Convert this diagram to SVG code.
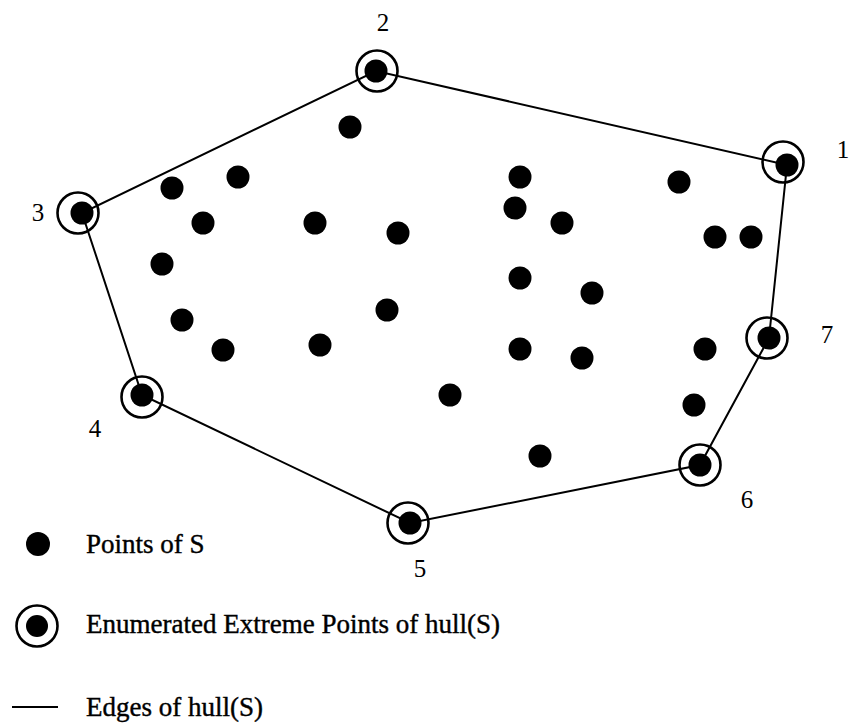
<svg xmlns="http://www.w3.org/2000/svg" width="850" height="724" viewBox="0 0 850 724">
<style>
.pt{fill:#000}
.ring{fill:none;stroke:#000;stroke-width:2.6}
.edge{stroke:#000;stroke-width:2;fill:none}
.lbl{font-family:"Liberation Serif","Times New Roman",serif;font-size:25px;fill:#000;text-anchor:middle}
.leg{font-family:"Liberation Serif","Times New Roman",serif;font-size:27px;fill:#000;stroke:#000;stroke-width:0.4}
</style>
<rect width="850" height="724" fill="#fff"/>
<g id="edges">
<polygon class="edge" points="787,165 376,71 82,213 142,395 410,523 700,465 769,338"/>
</g>
<g id="points">
<circle class="pt" cx="350" cy="127" r="11.5"/>
<circle class="pt" cx="172" cy="188" r="11.5"/>
<circle class="pt" cx="238" cy="177" r="11.5"/>
<circle class="pt" cx="203" cy="223" r="11.5"/>
<circle class="pt" cx="315" cy="223" r="11.5"/>
<circle class="pt" cx="398" cy="233" r="11.5"/>
<circle class="pt" cx="162" cy="264" r="11.5"/>
<circle class="pt" cx="182" cy="320" r="11.5"/>
<circle class="pt" cx="223" cy="350" r="11.5"/>
<circle class="pt" cx="320" cy="345" r="11.5"/>
<circle class="pt" cx="387" cy="310" r="11.5"/>
<circle class="pt" cx="450" cy="395" r="11.5"/>
<circle class="pt" cx="520" cy="177" r="11.5"/>
<circle class="pt" cx="515" cy="208" r="11.5"/>
<circle class="pt" cx="562" cy="223" r="11.5"/>
<circle class="pt" cx="520" cy="278" r="11.5"/>
<circle class="pt" cx="592" cy="293" r="11.5"/>
<circle class="pt" cx="520" cy="349" r="11.5"/>
<circle class="pt" cx="582" cy="358" r="11.5"/>
<circle class="pt" cx="540" cy="456" r="11.5"/>
<circle class="pt" cx="679" cy="182" r="11.5"/>
<circle class="pt" cx="715" cy="237" r="11.5"/>
<circle class="pt" cx="751" cy="237" r="11.5"/>
<circle class="pt" cx="705" cy="349" r="11.5"/>
<circle class="pt" cx="694" cy="405" r="11.5"/>
</g>
<g id="hull1"><circle class="ring" cx="783" cy="162" r="20.5"/><circle class="pt" cx="787" cy="165" r="11.5"/><text class="lbl" x="843" y="158">1</text></g>
<g id="hull2"><circle class="ring" cx="377" cy="71" r="20.5"/><circle class="pt" cx="376" cy="71" r="11.5"/><text class="lbl" x="383" y="31">2</text></g>
<g id="hull3"><circle class="ring" cx="78" cy="213" r="20.5"/><circle class="pt" cx="82" cy="213" r="11.5"/><text class="lbl" x="38" y="221">3</text></g>
<g id="hull4"><circle class="ring" cx="142" cy="397" r="20.5"/><circle class="pt" cx="142" cy="395" r="11.5"/><text class="lbl" x="95" y="437">4</text></g>
<g id="hull5"><circle class="ring" cx="408" cy="523" r="20.5"/><circle class="pt" cx="410" cy="523" r="11.5"/><text class="lbl" x="420" y="577">5</text></g>
<g id="hull6"><circle class="ring" cx="700" cy="465" r="20.5"/><circle class="pt" cx="700" cy="465" r="11.5"/><text class="lbl" x="747" y="508">6</text></g>
<g id="hull7"><circle class="ring" cx="767" cy="338" r="20.5"/><circle class="pt" cx="769" cy="338" r="11.5"/><text class="lbl" x="827" y="343">7</text></g>
<g id="legend">
<circle class="pt" cx="38" cy="544" r="12"/>
<text class="leg" x="86" y="553">Points of S</text>
<circle class="ring" cx="37" cy="626" r="20.5"/>
<circle class="pt" cx="37" cy="626" r="11"/>
<text class="leg" x="86" y="633">Enumerated Extreme Points of hull(S)</text>
<line class="edge" x1="12" y1="707" x2="58" y2="707"/>
<text class="leg" x="86" y="716">Edges of hull(S)</text>
</g>
</svg>
